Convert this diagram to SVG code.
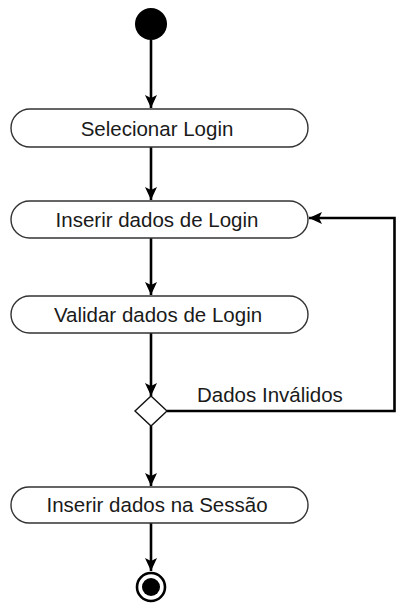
<svg xmlns="http://www.w3.org/2000/svg" width="396" height="603" viewBox="0 0 396 603">
  <style>
    .action rect { fill: #ffffff; stroke: #333333; stroke-width: 1.4; }
    .action text, .label { font-family: "Liberation Sans", Arial, sans-serif; font-size: 20.5px; fill: #1a1a1a; }
    .action text { text-anchor: middle; }
    .flow { fill: none; stroke: #000000; stroke-width: 2.6; }
    .decision { fill: #ffffff; stroke: #111111; stroke-width: 1.4; }
  </style>
  <defs>
    <marker id="arrow" markerUnits="userSpaceOnUse" markerWidth="14" markerHeight="12" refX="13" refY="6" orient="auto">
      <path d="M0,0 L13,6 L0,12 L3,6 Z" fill="#000000"/>
    </marker>
  </defs>

  <rect width="396" height="603" fill="#ffffff"/>

  <!-- connectors -->
  <g id="connectors">
    <line class="flow" x1="151" y1="40" x2="151" y2="108" marker-end="url(#arrow)"/>
    <line class="flow" x1="151" y1="147" x2="151" y2="200" marker-end="url(#arrow)"/>
    <line class="flow" x1="151" y1="238" x2="151" y2="295" marker-end="url(#arrow)"/>
    <line class="flow" x1="151" y1="333" x2="151" y2="396" marker-end="url(#arrow)"/>
    <line class="flow" x1="151" y1="426" x2="151" y2="486" marker-end="url(#arrow)"/>
    <line class="flow" x1="151" y1="523" x2="151" y2="571" marker-end="url(#arrow)"/>
    <polyline class="flow" points="167,411 394.5,411 394.5,218 309,218" marker-end="url(#arrow)"/>
    <text class="label" x="197" y="402">Dados Inválidos</text>
  </g>

  <g id="start">
    <circle cx="151" cy="24" r="16" fill="#000000"/>
  </g>

  <g id="selecionar-login" class="action">
    <rect x="11" y="109" width="297" height="38" rx="19" ry="19"/>
    <text x="157" y="135.5">Selecionar Login</text>
  </g>

  <g id="inserir-dados-login" class="action">
    <rect x="11" y="201" width="297" height="37" rx="18.5" ry="18.5"/>
    <text x="157" y="226.5">Inserir dados de Login</text>
  </g>

  <g id="validar-dados-login" class="action">
    <rect x="11" y="296" width="297" height="37" rx="18.5" ry="18.5"/>
    <text x="158" y="321.5">Validar dados de Login</text>
  </g>

  <g id="decisao">
    <polygon class="decision" points="151,396 167,411 151,426 135,411"/>
  </g>

  <g id="inserir-dados-sessao" class="action">
    <rect x="11" y="487" width="297" height="36" rx="18" ry="18"/>
    <text x="157" y="512">Inserir dados na Sessão</text>
  </g>

  <g id="fim">
    <circle cx="151" cy="587" r="14" fill="#ffffff" stroke="#000000" stroke-width="2.6"/>
    <circle cx="151" cy="587" r="9" fill="#000000"/>
  </g>
</svg>
